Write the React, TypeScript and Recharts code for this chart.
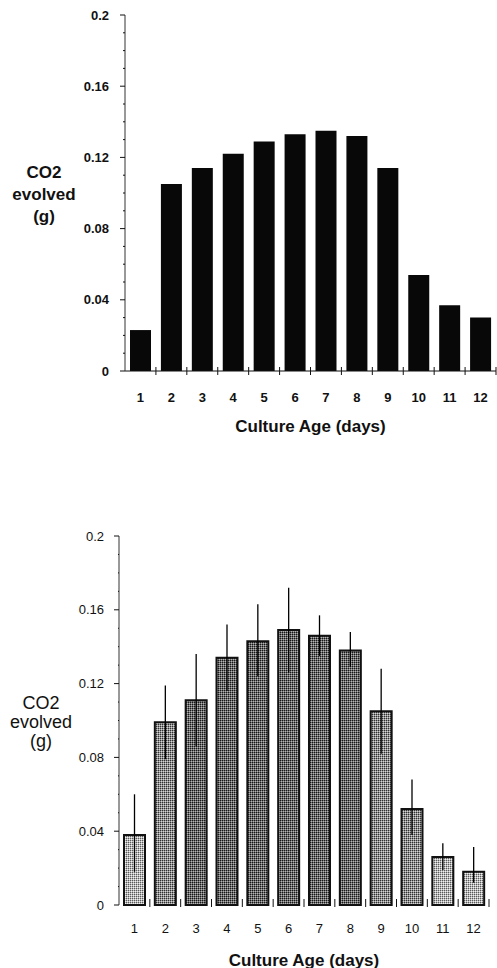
import React from "react";
import { Bar, BarChart, Cell, ErrorBar, Label, XAxis, YAxis } from "recharts";

// culture age categories (days)
const days = ["1", "2", "3", "4", "5", "6", "7", "8", "9", "10", "11", "12"];

// upper panel: single culture, CO2 evolved per day (g)
const co2Single = [0.023, 0.105, 0.114, 0.122, 0.129, 0.133, 0.135, 0.132, 0.114, 0.054, 0.037, 0.03];

// lower panel: mean of replicate cultures with error bars (g)
const co2Mean = [0.038, 0.099, 0.111, 0.134, 0.143, 0.149, 0.146, 0.138, 0.105, 0.052, 0.026, 0.018];
const co2ErrLow = [0.02, 0.02, 0.025, 0.018, 0.019, 0.023, 0.011, 0.009, 0.023, 0.014, 0.007, 0.006];
const co2ErrHigh = [0.022, 0.02, 0.025, 0.018, 0.02, 0.023, 0.011, 0.01, 0.023, 0.016, 0.0075, 0.0135];

// y ticks: every 0.01, labels only on multiples of 0.04
const yTicks = [
  0, 0.01, 0.02, 0.03, 0.04, 0.05, 0.06, 0.07, 0.08, 0.09, 0.1,
  0.11, 0.12, 0.13, 0.14, 0.15, 0.16, 0.17, 0.18, 0.19, 0.2,
];

const FONT = "'Liberation Sans', Arial, Helvetica, sans-serif";
const INK = "#111";

// stipple shade for each bar of the lower panel
const barShades = ["light", "mid", "dark", "dark", "dark", "dark", "dark", "dark", "mid", "mid", "light", "light"];

const topData = days.map((day, i) => ({ day, value: co2Single[i] }));
const bottomData = days.map((day, i) => ({
  day,
  value: co2Mean[i],
  err: [co2ErrLow[i], co2ErrHigh[i]],
}));

const makeYTick = (margin: number, bold: boolean, minorLen: number) => (props: any) => {
  const { x, y, payload } = props;
  const axisX = x + margin;
  const major = Math.round(payload.value * 100) % 4 === 0;
  return (
    <g>
      <line x1={axisX - (major ? 5 : minorLen)} x2={axisX} y1={y} y2={y} stroke={INK} strokeWidth={1} />
      {major && (
        <text
          x={x}
          y={y}
          textAnchor="end"
          dominantBaseline="central"
          fontFamily={FONT}
          fontSize={13}
          fontWeight={bold ? "bold" : "normal"}
          fill={INK}
        >
          {String(payload.value)}
        </text>
      )}
    </g>
  );
};

const makeXTick =
  (margin: number, above: number, below: number, bold: boolean, fallbackHalf: number) => (props: any) => {
    const { x, y, payload } = props;
    const axisY = y - margin;
    const half = typeof payload.offset === "number" && payload.offset > 0 ? payload.offset : fallbackHalf;
    return (
      <g>
        <line x1={x + half} x2={x + half} y1={axisY - above} y2={axisY + below} stroke={INK} strokeWidth={1} />
        <text
          x={x}
          y={y}
          dy="0.71em"
          textAnchor="middle"
          fontFamily={FONT}
          fontSize={13}
          fontWeight={bold ? "bold" : "normal"}
          fill={INK}
        >
          {payload.value}
        </text>
      </g>
    );
  };

const YTitle = ({ viewBox, cx, gap, bold }: any) => {
  const mid = viewBox.y + viewBox.height / 2;
  const lines = ["CO2", "evolved", "(g)"];
  return (
    <g>
      {lines.map((t, i) => (
        <text
          key={t}
          x={viewBox.x + cx}
          y={mid + (i - 1) * gap + 1}
          textAnchor="middle"
          dominantBaseline="central"
          fontFamily={FONT}
          fontSize={bold ? 17 : 18}
          fontWeight={bold ? "bold" : "normal"}
          fill={INK}
        >
          {t}
        </text>
      ))}
    </g>
  );
};

const XTitle = ({ viewBox }: any) => (
  <text
    x={viewBox.x + viewBox.width / 2}
    y={viewBox.y + 55}
    textAnchor="middle"
    dominantBaseline="central"
    fontFamily={FONT}
    fontSize={17}
    fontWeight="bold"
    fill={INK}
  >
    Culture Age (days)
  </text>
);

const TopChart = () => (
  <BarChart width={497} height={440} data={topData} margin={{ top: 15, right: 1, bottom: 0, left: 0 }}>
    <XAxis
      dataKey="day"
      height={69}
      interval={0}
      tickSize={0}
      tickMargin={22}
      tickLine={false}
      axisLine={{ stroke: INK, strokeWidth: 1 }}
      tick={makeXTick(22, 4, 4, true, (497 - 125 - 1) / 24)}
    >
      <Label content={(p: any) => <XTitle viewBox={p.viewBox} />} />
    </XAxis>
    <YAxis
      width={125}
      domain={[0, 0.2]}
      ticks={yTicks}
      interval={0}
      tickSize={0}
      tickMargin={16}
      tickLine={false}
      axisLine={{ stroke: "#333", strokeWidth: 1 }}
      tick={makeYTick(16, true, 2)}
    >
      <Label content={(p: any) => <YTitle viewBox={p.viewBox} cx={44} gap={22} bold />} />
    </YAxis>
    <Bar dataKey="value" fill="#080808" barSize={21} isAnimationActive={false} />
  </BarChart>
);

const BottomChart = () => (
  <BarChart width={497} height={468} data={bottomData} margin={{ top: 36, right: 8, bottom: 0, left: 0 }}>
    <defs>
      <pattern id="shade-light" width={2} height={2} patternUnits="userSpaceOnUse">
        <rect width={2} height={2} fill="#b8b8b8" />
        <rect width={1} height={1} fill="#5a5a5a" />
        <rect x={1} y={1} width={1} height={1} fill="#f0f0f0" />
      </pattern>
      <pattern id="shade-mid" width={2} height={2} patternUnits="userSpaceOnUse">
        <rect width={2} height={2} fill="#909090" />
        <rect width={1} height={1} fill="#303030" />
        <rect x={1} y={1} width={1} height={1} fill="#d4d4d4" />
      </pattern>
      <pattern id="shade-dark" width={2} height={2} patternUnits="userSpaceOnUse">
        <rect width={2} height={2} fill="#6c6c6c" />
        <rect width={1} height={1} fill="#181818" />
        <rect x={1} y={1} width={1} height={1} fill="#b4b4b4" />
      </pattern>
    </defs>
    <XAxis
      dataKey="day"
      height={63}
      interval={0}
      tickSize={0}
      tickMargin={19}
      tickLine={false}
      axisLine={false}
      tick={makeXTick(19, 6, 2, false, (497 - 119 - 8) / 24)}
    >
      <Label content={(p: any) => <XTitle viewBox={p.viewBox} />} />
    </XAxis>
    <YAxis
      width={119}
      domain={[0, 0.2]}
      ticks={yTicks}
      interval={0}
      tickSize={0}
      tickMargin={15}
      tickLine={false}
      axisLine={{ stroke: "#333", strokeWidth: 1 }}
      tick={makeYTick(15, false, 1)}
    >
      <Label content={(p: any) => <YTitle viewBox={p.viewBox} cx={41} gap={19} />} />
    </YAxis>
    <Bar dataKey="value" barSize={21} stroke={INK} strokeWidth={2} isAnimationActive={false}>
      {bottomData.map((d, i) => (
        <Cell key={d.day} fill={`url(#shade-${barShades[i]})`} />
      ))}
      <ErrorBar dataKey="err" width={0} stroke="#000" strokeWidth={1.3} direction="y" isAnimationActive={false} />
    </Bar>
  </BarChart>
);

export default function App() {
  return (
    <div style={{ position: "absolute", left: 0, top: 0, width: 497, height: 968, background: "#fff" }}>
      <div style={{ position: "absolute", left: 0, top: 0 }}>
        <TopChart />
      </div>
      <div style={{ position: "absolute", left: 0, top: 500 }}>
        <BottomChart />
      </div>
    </div>
  );
}
